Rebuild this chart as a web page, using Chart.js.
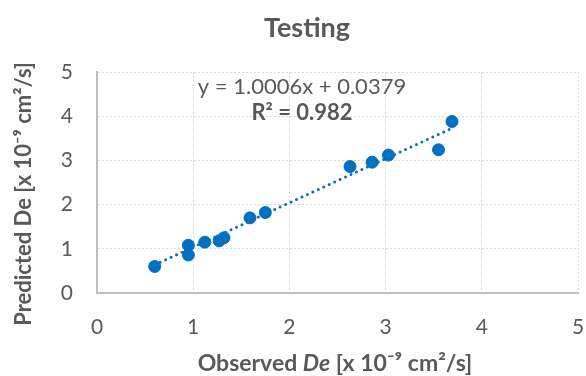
<!DOCTYPE html>
<html>
    <head>
        <title>Testing</title>
        <script src="https://cdn.jsdelivr.net/npm/chart.js@4"></script>
    </head>
    <style>
        body { margin: 0; background: white; }
        #box { width: 586px; height: 376px; position: relative; }
    </style>
    <body>
        <div id="box"><canvas id="chart"></canvas></div>
        <script>
        // observed vs predicted De [x 10^-9 cm2/s]
        const observed  = [0.60, 0.95, 0.95, 1.12, 1.27, 1.32, 1.59, 1.75, 2.63, 2.86, 3.03, 3.55, 3.69];
        const predicted = [0.60, 1.08, 0.86, 1.15, 1.18, 1.25, 1.70, 1.82, 2.86, 2.96, 3.12, 3.24, 3.88];
        // trendline end points
        const trendX = [0.60, 3.69];
        const trendY = [0.64, 3.73];
        const tickValues = [0, 1, 2, 3, 4, 5];

        const chartTitle = "Testing";
        const eqLine = "y = 1.0006x + 0.0379";
        const r2Line = "R² = 0.982";
        const yTitle = "Predicted De [x 10⁻⁹ cm²/s]";
        const xTitle = [["Observed ", ""], ["De", "italic "], [" [x 10⁻⁹ cm²/s]", ""]];

        const grey = "#595959";
        const blue = "#0070C0";
        const fam = "Lato, 'Open Sans', sans-serif";

        const textPlugin = {
            id: "texts",
            afterDraw(c) {
                const ctx = c.ctx;
                ctx.save();
                ctx.fillStyle = grey;
                ctx.textBaseline = "middle";
                ctx.textAlign = "center";

                ctx.font = "bold 27px " + fam;
                ctx.fillText(chartTitle, 307, 28);

                ctx.font = "22px " + fam;
                ctx.fillText(eqLine, 302, 87);
                ctx.font = "bold 22px " + fam;
                ctx.fillText(r2Line, 302, 113);

                // y axis title
                ctx.save();
                ctx.translate(24, 194);
                ctx.rotate(-Math.PI / 2);
                ctx.font = "bold 22px " + fam;
                ctx.fillText(yTitle, 0, 0);
                ctx.restore();

                // x axis title, "De" in italics
                ctx.textAlign = "left";
                let total = 0;
                xTitle.forEach(p => {
                    ctx.font = p[1] + "bold 23px " + fam;
                    total += ctx.measureText(p[0]).width;
                });
                let x = 335 - total / 2;
                xTitle.forEach(p => {
                    ctx.font = p[1] + "bold 23px " + fam;
                    ctx.fillText(p[0], x, 364);
                    x += ctx.measureText(p[0]).width;
                });
                ctx.restore();
            }
        };

        const tickFont = { family: fam, size: 21 };

        new Chart(document.getElementById("chart"), {
            type: "scatter",
            data: {
                datasets: [{
                    type: "line",
                    data: trendX.map((v, i) => ({ x: v, y: trendY[i] })),
                    borderColor: blue,
                    borderWidth: 3,
                    borderDash: [0, 6],
                    borderCapStyle: "round",
                    pointRadius: 0,
                    fill: false
                }, {
                    data: observed.map((v, i) => ({ x: v, y: predicted[i] })),
                    backgroundColor: blue,
                    borderColor: blue,
                    pointRadius: 6,
                    pointHoverRadius: 6
                }]
            },
            options: {
                responsive: true,
                maintainAspectRatio: false,
                animation: false,
                layout: { padding: { top: 72, right: 8, left: 0, bottom: 0 } },
                plugins: {
                    legend: { display: false },
                    tooltip: { enabled: false },
                    title: { display: false }
                },
                scales: {
                    x: {
                        type: "linear",
                        min: 0, max: 5,
                        afterFit: s => { s.height = 83; s.paddingLeft = 0; s.paddingRight = 0; },
                        afterBuildTicks: s => { s.ticks = tickValues.map(v => ({ value: v })); },
                        ticks: { color: grey, font: tickFont, padding: 22 },
                        grid: { color: "#d9d9d9", lineWidth: 1, drawTicks: false },
                        border: { color: "#bfbfbf", width: 2, dash: [2, 2] }
                    },
                    y: {
                        min: 0, max: 5,
                        afterFit: s => { s.width = 97; s.paddingTop = 0; s.paddingBottom = 0; },
                        afterBuildTicks: s => { s.ticks = tickValues.map(v => ({ value: v })); },
                        ticks: { color: grey, font: tickFont, padding: 24 },
                        grid: { color: "#d9d9d9", lineWidth: 1, drawTicks: false },
                        border: { color: "#bfbfbf", width: 2, dash: [2, 2] }
                    }
                }
            },
            plugins: [textPlugin]
        });
        </script>
    </body>
</html>
